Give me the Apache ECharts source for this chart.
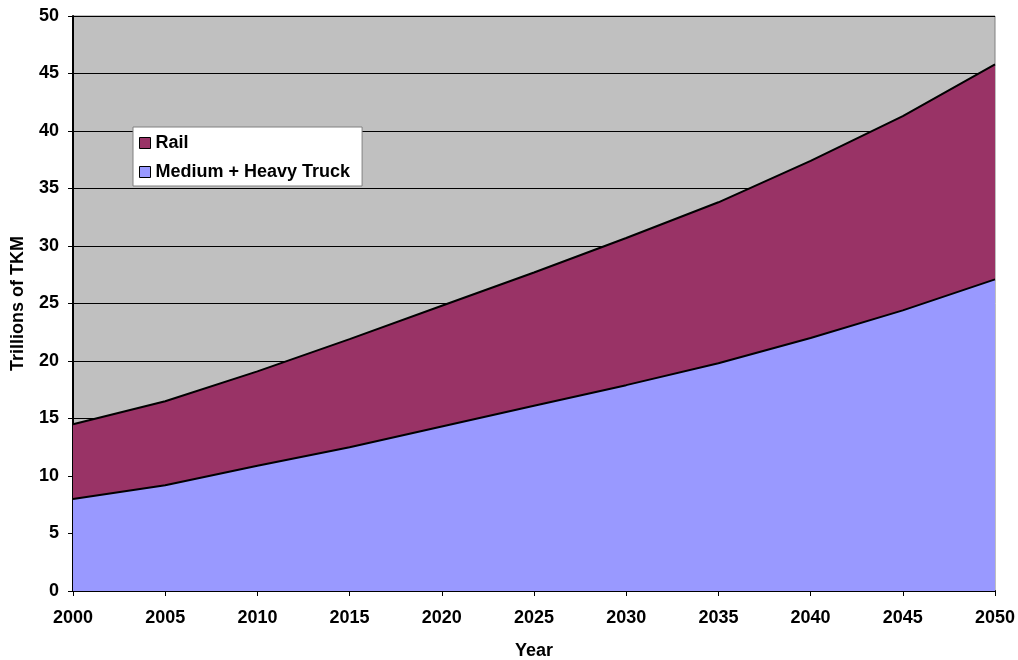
<!DOCTYPE html>
<html>
<head>
<meta charset="utf-8">
<script src="https://cdn.jsdelivr.net/npm/echarts@6/dist/echarts.min.js"></script>
<style>
  html, body { margin: 0; padding: 0; background: #ffffff; }
  #chart { width: 1018px; height: 660px; }
</style>
</head>
<body>
<div id="chart"></div>
<script>
// Freight activity by mode, trillions of tonne-km
const years = ['2000', '2005', '2010', '2015', '2020', '2025', '2030', '2035', '2040', '2045', '2050'];
const truck = [8.0, 9.2, 10.9, 12.5, 14.3, 16.1, 17.9, 19.8, 22.0, 24.4, 27.1];
const rail  = [6.5, 7.3, 8.2, 9.4, 10.5, 11.6, 12.8, 14.0, 15.4, 16.9, 18.7];
const yTicks = { min: 0, max: 50, interval: 5 };

const FONT = 'Liberation Sans, Arial, sans-serif';
const FONT_SIZE = 18;
const TRUCK_FILL = '#9999FF';
const RAIL_FILL = '#993366';

const chart = echarts.init(document.getElementById('chart'), null, { renderer: 'canvas' });

function areaSeries(name, data, fill) {
  return {
    name: name,
    type: 'line',
    stack: 'total',
    data: data,
    symbol: 'none',
    smooth: false,
    itemStyle: { color: fill, borderColor: '#000000', borderWidth: 1 },
    lineStyle: { color: '#000000', width: 2 },
    areaStyle: { color: fill, opacity: 1 },
    emphasis: { disabled: true }
  };
}

const boldText = { fontFamily: FONT, fontWeight: 'bold', fontSize: FONT_SIZE, color: '#000000' };

chart.setOption({
  animation: false,
  backgroundColor: '#ffffff',
  grid: {
    left: 73, right: 23, top: 16, bottom: 69,
    containLabel: false,
    outerBoundsMode: 'none',
    show: true,
    backgroundColor: '#C0C0C0',
    borderColor: '#808080',
    borderWidth: 1
  },
  legend: {
    data: ['Rail', 'Medium + Heavy Truck'],
    orient: 'vertical',
    left: 133, top: 127,
    backgroundColor: '#ffffff',
    borderColor: '#808080',
    borderWidth: 1,
    padding: [7, 12, 5, 6],
    itemGap: 11,
    itemWidth: 11, itemHeight: 11,
    icon: 'rect',
    itemStyle: { borderColor: '#000000', borderWidth: 1 },
    textStyle: Object.assign({}, boldText)
  },
  xAxis: {
    type: 'category',
    data: years,
    boundaryGap: false,
    name: 'Year',
    nameLocation: 'middle',
    nameGap: 51,
    nameTextStyle: boldText,
    axisLine: { lineStyle: { color: '#000000', width: 2 } },
    axisTick: { show: true, length: 5, inside: false, lineStyle: { color: '#000000', width: 1 } },
    axisLabel: Object.assign({ margin: 18 }, boldText),
    splitLine: { show: false }
  },
  yAxis: {
    type: 'value',
    min: yTicks.min, max: yTicks.max, interval: yTicks.interval,
    name: 'Trillions of TKM',
    nameLocation: 'middle',
    nameGap: 46,
    nameRotate: 90,
    nameTextStyle: boldText,
    axisLine: { show: true, lineStyle: { color: '#000000', width: 2 } },
    axisTick: { show: true, length: 5, inside: false, lineStyle: { color: '#000000', width: 1 } },
    axisLabel: Object.assign({ margin: 14 }, boldText),
    splitLine: { show: true, lineStyle: { color: '#000000', width: 1 } }
  },
  series: [
    areaSeries('Medium + Heavy Truck', truck, TRUCK_FILL),
    areaSeries('Rail', rail, RAIL_FILL)
  ]
});
</script>
</body>
</html>
